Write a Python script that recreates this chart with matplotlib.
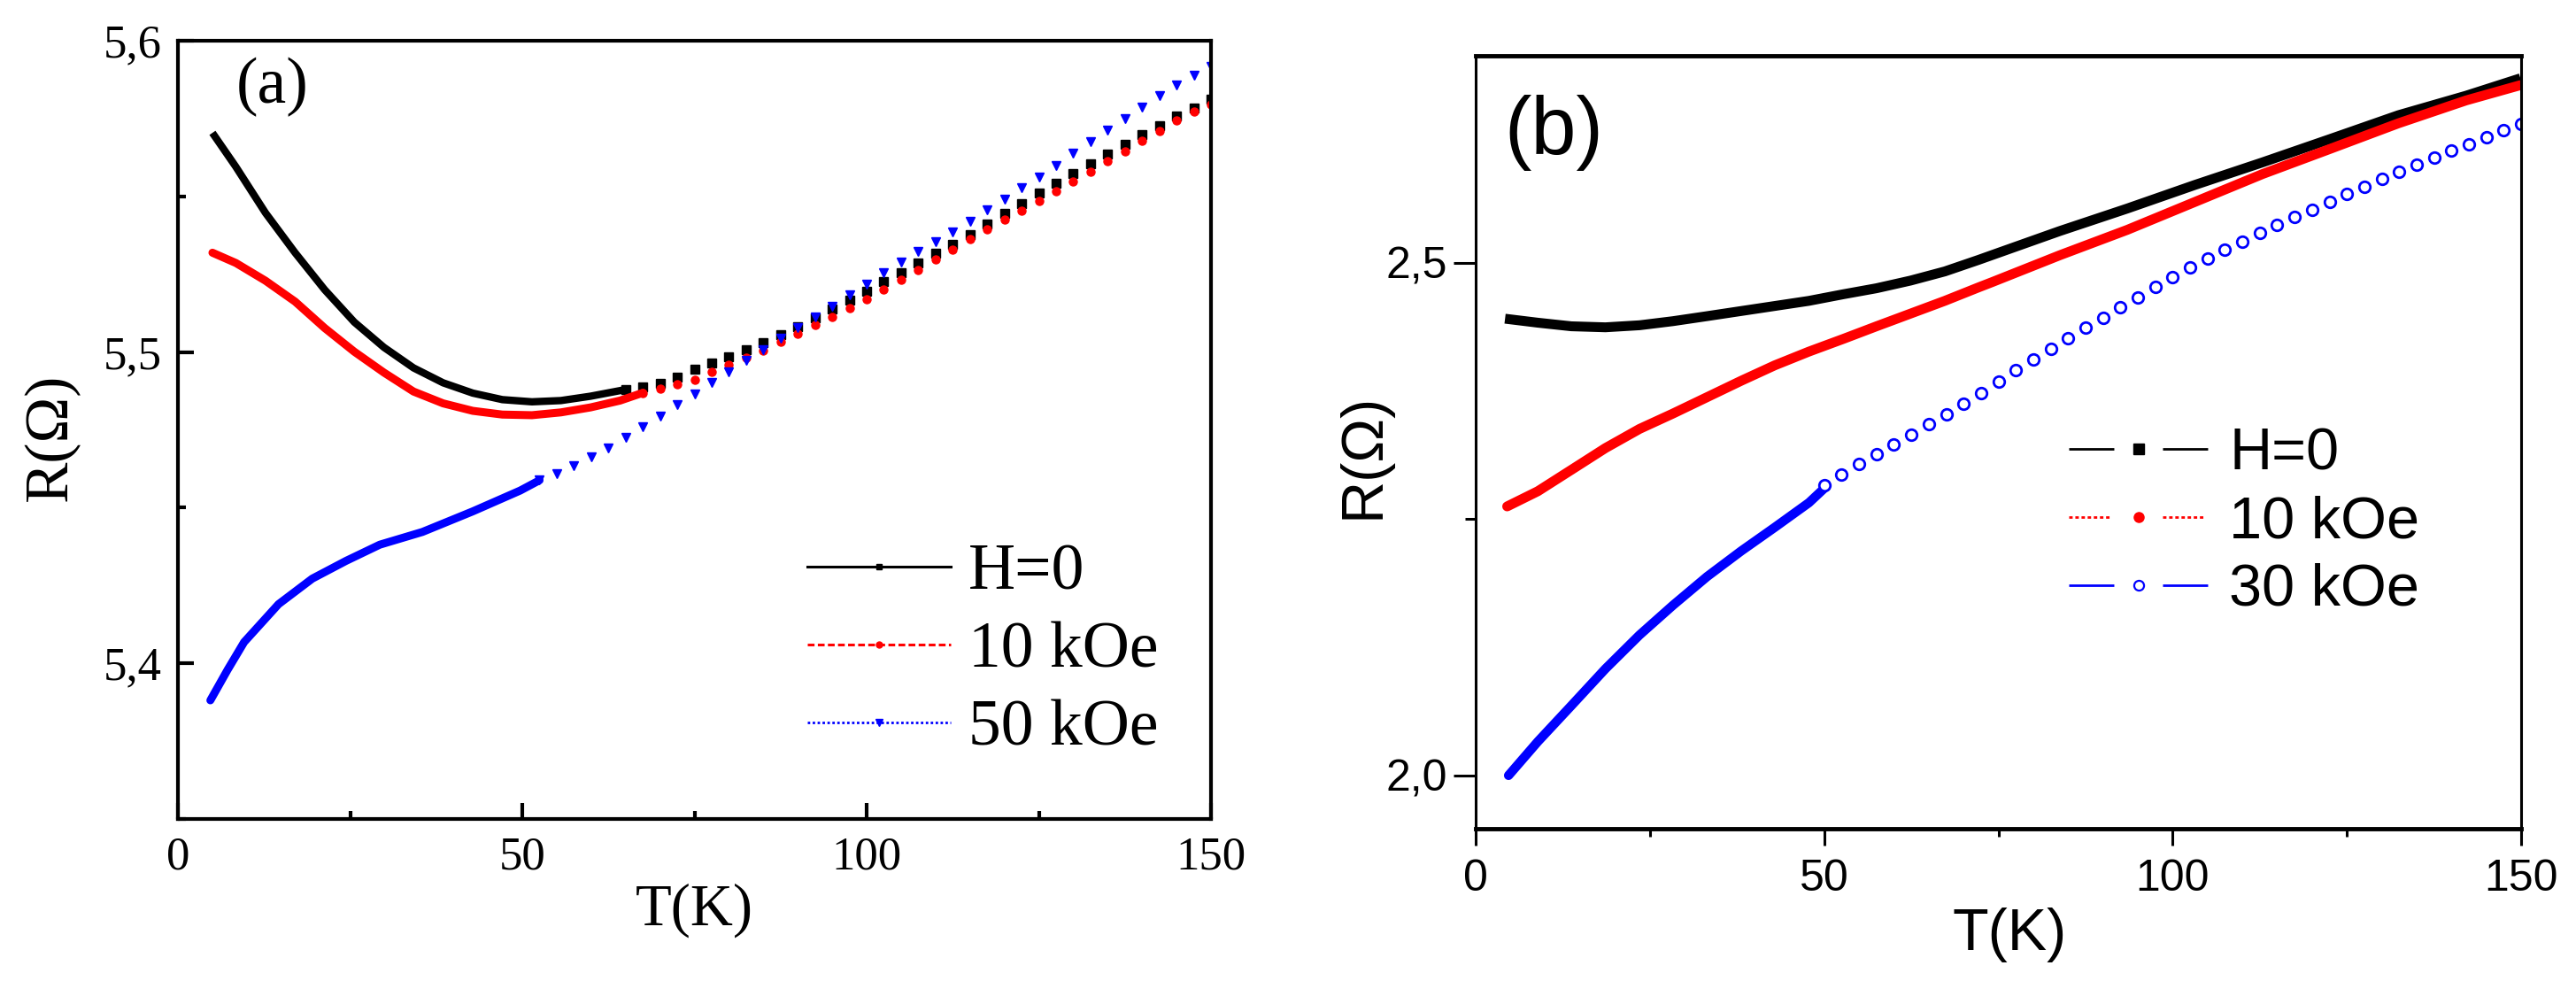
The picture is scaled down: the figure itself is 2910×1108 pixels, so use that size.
import matplotlib
matplotlib.use('Agg')
import matplotlib.pyplot as plt
from matplotlib.lines import Line2D
from matplotlib.ticker import MultipleLocator, FuncFormatter

plt.rcParams['lines.scale_dashes'] = False
plt.rcParams['lines.solid_joinstyle'] = 'round'

# ---------------- panel (a) data ----------------
# low-T part is so dense it reads as a thick trace, above that the points separate
a_T_h0 = [5.0, 8.4, 12.7, 17.0, 21.3, 25.6, 29.9, 34.2, 38.5, 42.8, 47.1, 51.4, 55.6, 59.9,
          64.2, 65.0]
a_R_h0 = [5.5704, 5.5595, 5.5447, 5.5319, 5.5200, 5.5096, 5.5015, 5.4949, 5.4901, 5.4868,
          5.4847, 5.4840, 5.4844, 5.4858, 5.4876, 5.4879]
a_T_h0_pts = [65.0, 67.5, 70.0, 72.5, 75.0, 77.5, 80.0, 82.5, 85.0, 87.5, 90.0, 92.5, 95.0,
              97.5, 100.0, 102.5, 105.0, 107.5, 110.0, 112.5, 115.0, 117.5, 120.0, 122.5,
              125.0, 127.5, 130.0, 132.5, 135.0, 137.5, 140.0, 142.5, 145.0, 147.5, 150.0]
a_R_h0_pts = [5.4879, 5.4887, 5.4900, 5.4918, 5.4944, 5.4965, 5.4985, 5.5007, 5.5029, 5.5055,
              5.5082, 5.5109, 5.5137, 5.5166, 5.5195, 5.5225, 5.5254, 5.5285, 5.5316, 5.5347,
              5.5378, 5.5411, 5.5444, 5.5478, 5.5511, 5.5543, 5.5574, 5.5605, 5.5636, 5.5667,
              5.5698, 5.5728, 5.5757, 5.5785, 5.5812]

a_T_10 = [5.0, 8.4, 12.7, 17.0, 21.3, 25.6, 29.9, 34.2, 38.5, 42.8, 47.1, 51.4, 55.6, 59.9,
          64.2, 67.5]
a_R_10 = [5.5319, 5.5286, 5.5229, 5.5162, 5.5077, 5.5001, 5.4934, 5.4873, 5.4835, 5.4811,
          5.4799, 5.4797, 5.4806, 5.4822, 5.4844, 5.4869]
a_T_10_pts = [67.5, 70.0, 72.5, 75.0, 77.5, 80.0, 82.5, 85.0, 87.5, 90.0, 92.5, 95.0,
              97.5, 100.0, 102.5, 105.0, 107.5, 110.0, 112.5, 115.0, 117.5, 120.0, 122.5,
              125.0, 127.5, 130.0, 132.5, 135.0, 137.5, 140.0, 142.5, 145.0, 147.5, 150.0]
a_R_10_pts = [5.4869, 5.4882, 5.4896, 5.4912, 5.4935, 5.4958, 5.4981, 5.5005, 5.5032, 5.5059,
              5.5086, 5.5113, 5.5142, 5.5170, 5.5200, 5.5231, 5.5264, 5.5297, 5.5330, 5.5362,
              5.5393, 5.5424, 5.5455, 5.5486, 5.5517, 5.5548, 5.5580, 5.5612, 5.5645, 5.5678,
              5.5711, 5.5743, 5.5771, 5.5796]

a_T_50 = [4.7, 7.2, 9.6, 14.6, 19.5, 24.4, 29.3, 35.5, 42.8, 49.7, 52.5]
a_R_50 = [5.3881, 5.3979, 5.4068, 5.4190, 5.4272, 5.4329, 5.4381, 5.4422, 5.4488, 5.4555,
          5.4588]
a_T_50_pts = [52.5, 55.0, 57.5, 60.0, 62.5, 65.0, 67.5, 70.0, 72.5, 75.0, 77.5, 80.0, 82.5,
              85.0, 87.5, 90.0, 92.5, 95.0, 97.5, 100.0, 102.5, 105.0, 107.5, 110.0, 112.5,
              115.0, 117.5, 120.0, 122.5, 125.0, 127.5, 130.0, 132.5, 135.0, 137.5, 140.0,
              142.5, 145.0, 147.5, 150.0]
a_R_50_pts = [5.4588, 5.4608, 5.4635, 5.4662, 5.4692, 5.4725, 5.4760, 5.4795, 5.4830, 5.4865,
              5.4902, 5.4937, 5.4973, 5.5008, 5.5043, 5.5078, 5.5113, 5.5148, 5.5183, 5.5219,
              5.5254, 5.5288, 5.5322, 5.5355, 5.5387, 5.5421, 5.5456, 5.5491, 5.5527, 5.5563,
              5.5600, 5.5638, 5.5675, 5.5713, 5.5750, 5.5787, 5.5824, 5.5857, 5.5888, 5.5918]

# ---------------- panel (b) data ----------------
b_T_h0 = [4.2, 8.9, 13.7, 18.6, 23.5, 28.3, 33.2, 38.1, 42.9, 47.8, 52.7, 57.5, 62.4, 67.3,
          72.2, 74.1, 83.8, 93.5, 103.2, 112.9, 122.7, 132.4, 142.1, 149.9]
b_R_h0 = [2.4455, 2.4416, 2.4381, 2.4371, 2.4391, 2.4431, 2.4480, 2.4530, 2.4579, 2.4629,
          2.4693, 2.4752, 2.4827, 2.4916, 2.5030, 2.5076, 2.5310, 2.5530, 2.5760, 2.5980,
          2.6210, 2.6440, 2.6630, 2.6800]

b_T_10 = [4.5, 8.9, 13.7, 18.6, 23.5, 28.3, 33.2, 38.1, 42.9, 47.8, 52.7, 57.5, 62.4, 67.3,
          72.2, 74.1, 83.8, 93.5, 103.2, 112.9, 122.7, 132.4, 142.1, 149.9]
b_R_10 = [2.2624, 2.2772, 2.2980, 2.3193, 2.3380, 2.3530, 2.3690, 2.3850, 2.4000, 2.4134,
          2.4257, 2.4381, 2.4505, 2.4629, 2.4762, 2.4812, 2.5074, 2.5322, 2.5594, 2.5866,
          2.6114, 2.6361, 2.6584, 2.6733]

b_T_30 = [4.7, 8.9, 13.7, 18.6, 23.5, 28.3, 33.2, 38.1, 42.9, 47.8, 50.0]
b_R_30 = [2.000, 2.033, 2.068, 2.104, 2.137, 2.166, 2.194, 2.219, 2.242, 2.266, 2.280]
b_T_30_pts = [50.0, 52.5, 55.0, 57.5, 60.0, 62.5, 65.0, 67.5, 70.0, 72.5, 75.0, 77.5, 80.0,
              82.5, 85.0, 87.5, 90.0, 92.5, 95.0, 97.5, 100.0, 102.5, 105.0, 107.5, 110.0,
              112.5, 115.0, 117.5, 120.0, 122.5, 125.0, 127.5, 130.0, 132.5, 135.0, 137.5,
              140.0, 142.5, 145.0, 147.5, 150.0]
b_R_30_pts = [2.2830, 2.2935, 2.3035, 2.3135, 2.3230, 2.3325, 2.3425, 2.3525, 2.3625, 2.3730,
              2.3840, 2.3950, 2.4055, 2.4160, 2.4262, 2.4364, 2.4465, 2.4565, 2.4664, 2.4762,
              2.4858, 2.4953, 2.5043, 2.5128, 2.5210, 2.5290, 2.5368, 2.5445, 2.5521, 2.5596,
              2.5670, 2.5743, 2.5815, 2.5886, 2.5956, 2.6025, 2.6093, 2.6160, 2.6226, 2.6290,
              2.6352]

labels_a = ['H=0', '10 kOe', '50 kOe']
labels_b = ['H=0', '10 kOe', '30 kOe']

comma = FuncFormatter(lambda v, pos: ('%.1f' % v).replace('.', ','))

fig = plt.figure(figsize=(29.1, 11.08), dpi=100)
ax1 = fig.add_axes([0.0691, 0.1652, 0.4010, 0.7933])
ax2 = fig.add_axes([0.5729, 0.1552, 0.4058, 0.7880])

# ---------------- (a) ----------------
serif = 'Liberation Serif'
ax1.plot(a_T_h0, a_R_h0, color='black', lw=6, solid_capstyle='butt')
ax1.plot(a_T_h0_pts, a_R_h0_pts, ls='none', marker='s', ms=6.5, color='black')
ax1.plot(a_T_10, a_R_10, color='red', lw=6.5, solid_capstyle='round')
ax1.plot(a_T_10_pts, a_R_10_pts, ls='none', marker='o', ms=6.5, color='red')
ax1.plot(a_T_50, a_R_50, color='blue', lw=6.5, solid_capstyle='round')
ax1.plot(a_T_50_pts, a_R_50_pts, ls='none', marker='v', ms=7, color='blue')

ax1.set_xlim(0, 150)
ax1.set_ylim(5.35, 5.6)
ax1.xaxis.set_major_locator(MultipleLocator(50))
ax1.xaxis.set_minor_locator(MultipleLocator(25))
ax1.yaxis.set_major_locator(MultipleLocator(0.1))
ax1.yaxis.set_minor_locator(MultipleLocator(0.05))
ax1.yaxis.set_major_formatter(comma)
ax1.tick_params(which='both', direction='in', width=3, top=False, right=False,
                labelsize=38, labelfontfamily=serif)
ax1.tick_params(which='major', length=13)
ax1.tick_params(which='minor', length=6.5)
ax1.tick_params(axis='x', pad=14)
ax1.tick_params(axis='y', pad=13)
for s in ax1.spines.values():
    s.set_linewidth(3)

ax1.set_xlabel('T(K)', fontsize=48, family=serif, va='center')
ax1.set_ylabel('R(Ω)', fontsize=50, family=serif, va='center')
ax1.xaxis.set_label_coords(0.5, -0.117)
ax1.yaxis.set_label_coords(-0.1225, 0.49)
ax1.text(0.091, 0.94, '(a)', transform=ax1.transAxes, ha='center', va='center',
         fontsize=53, family=serif)

hand_a = [
    Line2D([], [], color='black', lw=2.2, ls='-', marker='s', ms=5),
    Line2D([], [], color='red', lw=2.2, ls=(0, (5.5, 2.7)), marker='o', ms=5),
    Line2D([], [], color='blue', lw=2.0, ls=(0, (2.0, 2.0)), marker='v', ms=6),
]
ax1.legend(hand_a, labels_a, loc='center left', bbox_to_anchor=(0.609, 0.215),
           frameon=False, numpoints=1, handlelength=2.2, handletextpad=0.28,
           labelspacing=0.28, borderpad=0, borderaxespad=0,
           prop={'family': serif, 'size': 53})

# ---------------- (b) ----------------
sans = 'Liberation Sans'
ax2.plot(b_T_h0, b_R_h0, color='black', lw=8, solid_capstyle='butt')
ax2.plot(b_T_10, b_R_10, color='red', lw=8, solid_capstyle='round')
ax2.plot(b_T_30, b_R_30, color='blue', lw=7.5, solid_capstyle='round')
ax2.plot(b_T_30_pts, b_R_30_pts, ls='none', marker='o', ms=9, mfc='white',
         mec='blue', mew=2.0)

ax2.set_xlim(0, 150)
ax2.set_ylim(1.948, 2.702)
ax2.xaxis.set_major_locator(MultipleLocator(50))
ax2.xaxis.set_minor_locator(MultipleLocator(25))
ax2.yaxis.set_major_locator(MultipleLocator(0.5))
ax2.yaxis.set_minor_locator(MultipleLocator(0.25))
ax2.yaxis.set_major_formatter(comma)
ax2.tick_params(which='both', direction='out', width=2.2, top=False, right=False,
                labelsize=36, labelfontfamily=sans)
ax2.tick_params(axis='x', which='major', length=13.5, pad=11)
ax2.tick_params(axis='x', which='minor', length=6.5)
ax2.tick_params(axis='y', which='major', length=18, pad=5)
ax2.tick_params(axis='y', which='minor', length=9)
ax2.spines['top'].set_linewidth(3.5)
ax2.spines['bottom'].set_linewidth(3.5)
ax2.spines['left'].set_linewidth(2.2)
ax2.spines['right'].set_linewidth(2.2)

ax2.set_xlabel('T(K)', fontsize=48, family=sans, va='center')
ax2.set_ylabel('R(Ω)', fontsize=48, family=sans, va='center')
ax2.xaxis.set_label_coords(0.511, -0.137)
ax2.yaxis.set_label_coords(-0.107, 0.482)
ax2.text(0.0745, 0.90, '(b)', transform=ax2.transAxes, ha='center', va='center',
         fontsize=66, family=sans)

# Origin-style handles: line, gap with marker, line
dots_gap = [2.8, 2.2] * 6 + [2.8, 43.5]
hand_b = [
    Line2D([], [], color='black', lw=2.0, ls=(0, (36.7, 39.6)), marker='s', ms=8),
    Line2D([], [], color='red', lw=2.0, ls=(0, dots_gap), marker='o', ms=8),
    Line2D([], [], color='blue', lw=2.0, ls=(0, (36.7, 39.6)), marker='o', ms=8,
           mfc='white', mec='blue', mew=1.6),
]
ax2.legend(hand_b, labels_b, loc='center left', bbox_to_anchor=(0.567, 0.396),
           frameon=False, numpoints=1, handlelength=2.37, handletextpad=0.35,
           labelspacing=0.22, borderpad=0, borderaxespad=0,
           prop={'family': sans, 'size': 48})

fig.savefig('out.png', dpi=100)
